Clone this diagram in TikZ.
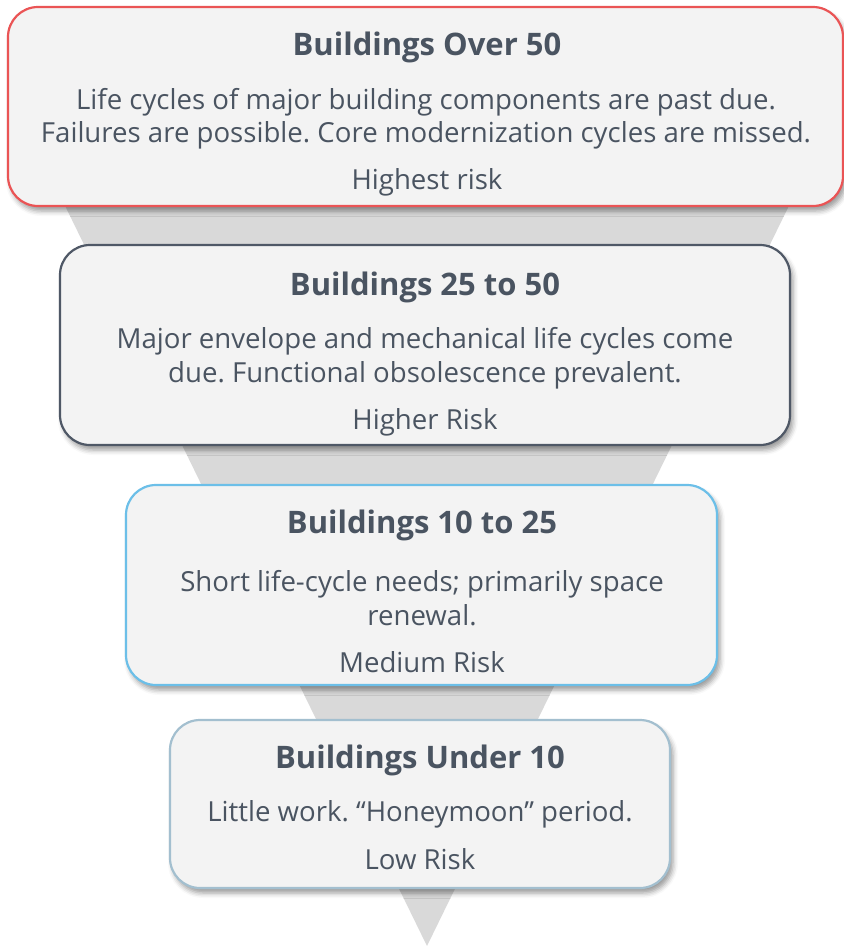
\documentclass[tikz,border=0pt]{standalone}
\usepackage{fontspec}
\setmainfont{Open Sans}
\usetikzlibrary{shadows.blur}
\frenchspacing
\definecolor{inkgray}{HTML}{4A5461}
\definecolor{funnelgray}{HTML}{D9D9D9}
\definecolor{boxfill}{HTML}{F3F3F3}
\definecolor{edgered}{HTML}{EA5455}
\definecolor{edgeslate}{HTML}{4F5866}
\definecolor{edgesky}{HTML}{6CBFE8}
\definecolor{edgesteel}{HTML}{A3BFCF}
\tikzset{
  tier/.style={draw=#1, line width=2.2pt, rounded corners=30pt, fill=boxfill,
    blur shadow={shadow xshift=3pt, shadow yshift=-5pt, shadow blur radius=5pt, shadow opacity=40}},
  headline/.style={font=\fontsize{31}{36}\selectfont\bfseries, text=inkgray, anchor=center, inner sep=0pt},
  bodytext/.style={font=\fontsize{27.6}{33.5}\selectfont, text=inkgray, align=center, anchor=center, inner sep=0pt},
  risktext/.style={font=\fontsize{27.6}{32}\selectfont, text=inkgray, anchor=center, inner sep=0pt}
}
\begin{document}
\begin{tikzpicture}[x=1pt, y=-1pt]
\path[use as bounding box] (0,0) rectangle (844,946);
% funnel behind the tiers
\fill[funnelgray] (50,175) -- (804,175) -- (427,946) -- cycle;
% tiers
\draw[tier=edgered]   (8,7)    rectangle (843,206);
\draw[tier=edgeslate] (60,245) rectangle (790,445);
\draw[tier=edgesky]   (126,485) rectangle (717,685);
\draw[tier=edgesteel] (170,720) rectangle (670,888);
% tier 1
\node[headline] (h1) at (427,47) {Buildings Over 50};
\node[bodytext] (d1) at (426,119) {Life cycles of major building components are past due.\\Failures are possible. Core modernization cycles are missed.};
\node[risktext] (r1) at (427,182) {Highest risk};
% tier 2
\node[headline] (h2) at (425,287) {Buildings 25 to 50};
\node[bodytext] (d2) at (425,358) {Major envelope and mechanical life cycles come\\due. Functional obsolescence prevalent.};
\node[risktext] (r2) at (425,422) {Higher Risk};
% tier 3
\node[headline] (h3) at (422,525) {Buildings 10 to 25};
\node[bodytext] (d3) at (422,598) {Short life-cycle needs; primarily space\\renewal.};
\node[risktext] (r3) at (422,662) {Medium Risk};
% tier 4
\node[headline] (h4) at (420,760) {Buildings Under 10};
\node[bodytext] (d4) at (420,814) {Little work. “Honeymoon” period.};
\node[risktext] (r4) at (420,859) {Low Risk};
\end{tikzpicture}
\end{document}
